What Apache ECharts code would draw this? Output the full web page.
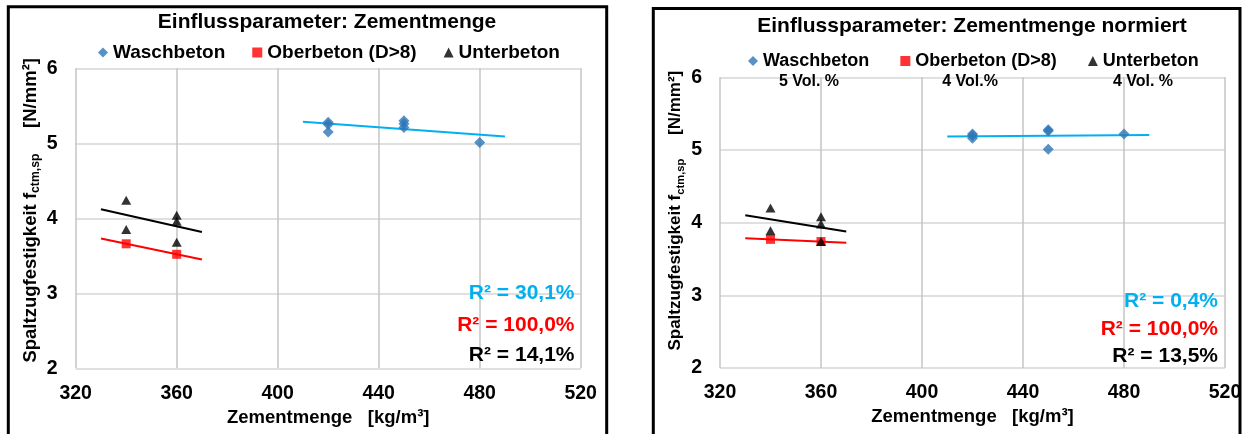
<!DOCTYPE html>
<html>
<head>
<meta charset="utf-8">
<script src="https://cdn.jsdelivr.net/npm/echarts@6/dist/echarts.min.js"></script>
<style>
  html, body { margin: 0; padding: 0; background: #fff; }
  #chart { width: 1248px; height: 434px; }
</style>
</head>
<body>
<div id="chart"></div>
<script>
// Versuchsreihen
const seriesNames = ['Waschbeton', 'Oberbeton (D>8)', 'Unterbeton'];

// Zementmenge [kg/m³] je Probe
const waschX = [420, 420, 420, 450, 450, 450, 480];
const oberX = [340, 360];
const unterX = [340, 340, 360, 360, 360];

// Spaltzugfestigkeit [N/mm²], Zementmenge
const waschY = [5.28, 5.25, 5.15, 5.30, 5.26, 5.21, 5.01];
const oberY = [3.66, 3.52];
const unterY = [4.24, 3.85, 4.04, 3.96, 3.68];

// Spaltzugfestigkeit [N/mm²], Zementmenge normiert
const waschNormY = [5.22, 5.20, 5.16, 5.28, 5.26, 5.01, 5.22];
const oberNormY = [3.77, 3.74];
const unterNormY = [4.20, 3.89, 4.08, 3.98, 3.74];

// Bestimmtheitsmaße der Trendlinien
const r2Left = ['R² = 30,1%', 'R² = 100,0%', 'R² = 14,1%'];
const r2Right = ['R² = 0,4%', 'R² = 100,0%', 'R² = 13,5%'];

// Luftporengehalt
const volLabels = ['5 Vol. %', '4 Vol.%', '4 Vol. %'];

// Achsen
const xMin = 320, xMax = 520, xStep = 40;
const yMin = 2, yMax = 6, yStep = 1;

const titles = ['Einflussparameter: Zementmenge', 'Einflussparameter: Zementmenge normiert'];

const FONT = '"Liberation Sans", Arial, sans-serif';
const colors = { wasch: '#2e75b6', ober: '#ff0000', unter: '#000000' };
const trendColors = ['#00b0f0', '#ff0000', '#000000'];

function pairs(xs, ys) { return xs.map((x, i) => [x, ys[i]]); }

// lineare Regression, Trendlinie 10 kg/m³ über die Messwerte hinaus
function trend(xs, ys) {
  const n = xs.length;
  const mx = xs.reduce((a, b) => a + b, 0) / n;
  const my = ys.reduce((a, b) => a + b, 0) / n;
  let sxy = 0, sxx = 0;
  for (let i = 0; i < n; i++) { sxy += (xs[i] - mx) * (ys[i] - my); sxx += (xs[i] - mx) ** 2; }
  const k = sxy / sxx;
  const x0 = Math.min(...xs) - 10, x1 = Math.max(...xs) + 10;
  return [[x0, my + k * (x0 - mx)], [x1, my + k * (x1 - mx)]];
}

const grids = [
  { left: 75.7, top: 68.3, width: 505, height: 300 },
  { left: 720, top: 77.3, width: 505, height: 290.7 }
];

function xAxis(gi) {
  return {
    type: 'value', gridIndex: gi, min: xMin, max: xMax, interval: xStep,
    name: '{m|Zementmenge   [kg/m³]}', nameLocation: 'middle', nameGap: 38,
    nameTextStyle: { rich: { m: { fontFamily: FONT, fontWeight: 'bold', fontSize: 18.5, color: '#000' } } },
    axisLine: { show: false }, axisTick: { show: false },
    axisLabel: { fontFamily: FONT, fontWeight: 'bold', fontSize: 19.5, color: '#000', margin: 15 },
    splitLine: { show: true, lineStyle: { color: '#c4c4c4', width: 1.5 } }
  };
}
function yAxis(gi, size, lift) {
  return {
    type: 'value', gridIndex: gi, min: yMin, max: yMax, interval: yStep,
    name: '{m|Spaltzugfestigkeit f}{s|ctm,sp}{m|     [N/mm²]}', nameLocation: 'middle', nameGap: 34,
    nameTextStyle: {
      padding: [0, 0, 0, lift * 2],
      rich: {
        m: { fontFamily: FONT, fontWeight: 'bold', fontSize: size, color: '#000', lineHeight: 22, verticalAlign: 'middle' },
        s: { fontFamily: FONT, fontWeight: 'bold', fontSize: size * 0.66, color: '#000', lineHeight: 12, verticalAlign: 'bottom' }
      }
    },
    axisLine: { show: false }, axisTick: { show: false },
    axisLabel: { fontFamily: FONT, fontWeight: 'bold', fontSize: 19.5, color: '#000', margin: 18 },
    splitLine: { show: true, lineStyle: { color: '#d6d6d6', width: 1.5 } }
  };
}

function scatter(gi, name, data, symbol, size, color) {
  return {
    type: 'scatter', name, xAxisIndex: gi, yAxisIndex: gi, data,
    symbol, symbolSize: size, itemStyle: { color }, z: 3
  };
}
function trendLine(gi, data, color) {
  return {
    type: 'line', xAxisIndex: gi, yAxisIndex: gi, data, symbol: 'none',
    lineStyle: { color, width: 2 }, z: 2, silent: true
  };
}

const series = [
  scatter(0, seriesNames[0], pairs(waschX, waschY), 'diamond', [11, 11], colors.wasch),
  scatter(0, seriesNames[1], pairs(oberX, oberY), 'rect', 9, colors.ober),
  scatter(0, seriesNames[2], pairs(unterX, unterY), 'triangle', [10, 9], colors.unter),
  trendLine(0, trend(waschX, waschY), trendColors[0]),
  trendLine(0, trend(oberX, oberY), trendColors[1]),
  trendLine(0, trend(unterX, unterY), trendColors[2]),
  scatter(1, seriesNames[0], pairs(waschX, waschNormY), 'diamond', [11, 11], colors.wasch),
  scatter(1, seriesNames[1], pairs(oberX, oberNormY), 'rect', 9, colors.ober),
  scatter(1, seriesNames[2], pairs(unterX, unterNormY), 'triangle', [10, 9], colors.unter),
  trendLine(1, trend(waschX, waschNormY), trendColors[0]),
  trendLine(1, trend(oberX, oberNormY), trendColors[1]),
  trendLine(1, trend(unterX, unterNormY), trendColors[2])
];

function legend(left, top, size, gap) {
  return {
    data: seriesNames, left, top, padding: 0, itemWidth: 10, itemHeight: 10, itemGap: gap,
    selectedMode: false,
    textStyle: { fontFamily: FONT, fontWeight: 'bold', fontSize: size, color: '#000' }
  };
}

function text(x, y, str, size, color, align) {
  return {
    type: 'text', x, y, silent: true, z: 5,
    style: { text: str, fontFamily: FONT, fontWeight: 'bold', fontSize: size, fill: color, align, verticalAlign: 'middle' }
  };
}

const graphic = [
  // Rahmen der beiden Diagramme
  { type: 'rect', shape: { x: 8.3, y: 6.7, width: 598.4, height: 440 }, style: { fill: 'none', stroke: '#000', lineWidth: 3 }, z: 10 },
  { type: 'rect', shape: { x: 653.3, y: 8.5, width: 586.7, height: 440 }, style: { fill: 'none', stroke: '#000', lineWidth: 3 }, z: 10 },
  text(327, 22.5, titles[0], 21, '#000', 'center'),
  text(972, 25.8, titles[1], 21, '#000', 'center'),
  text(809, 82, volLabels[0], 16, '#000', 'center'),
  text(970, 82, volLabels[1], 16, '#000', 'center'),
  text(1143, 82, volLabels[2], 16, '#000', 'center'),
  text(574.5, 293.3, r2Left[0], 21, trendColors[0], 'right'),
  text(574.5, 325, r2Left[1], 21, trendColors[1], 'right'),
  text(574.5, 355, r2Left[2], 21, trendColors[2], 'right'),
  text(1218, 301.7, r2Right[0], 21, trendColors[0], 'right'),
  text(1218, 329.3, r2Right[1], 21, trendColors[1], 'right'),
  text(1218, 356, r2Right[2], 21, trendColors[2], 'right')
];

const chart = echarts.init(document.getElementById('chart'));
chart.setOption({
  backgroundColor: '#fff',
  animation: false,
  grid: grids,
  xAxis: [xAxis(0), xAxis(1)],
  yAxis: [yAxis(0, 18.5, 8), yAxis(1, 17, 12)],
  legend: [legend(98, 43, 19, 27), legend(748, 52, 18, 31)],
  series,
  graphic
});
</script>
</body>
</html>
